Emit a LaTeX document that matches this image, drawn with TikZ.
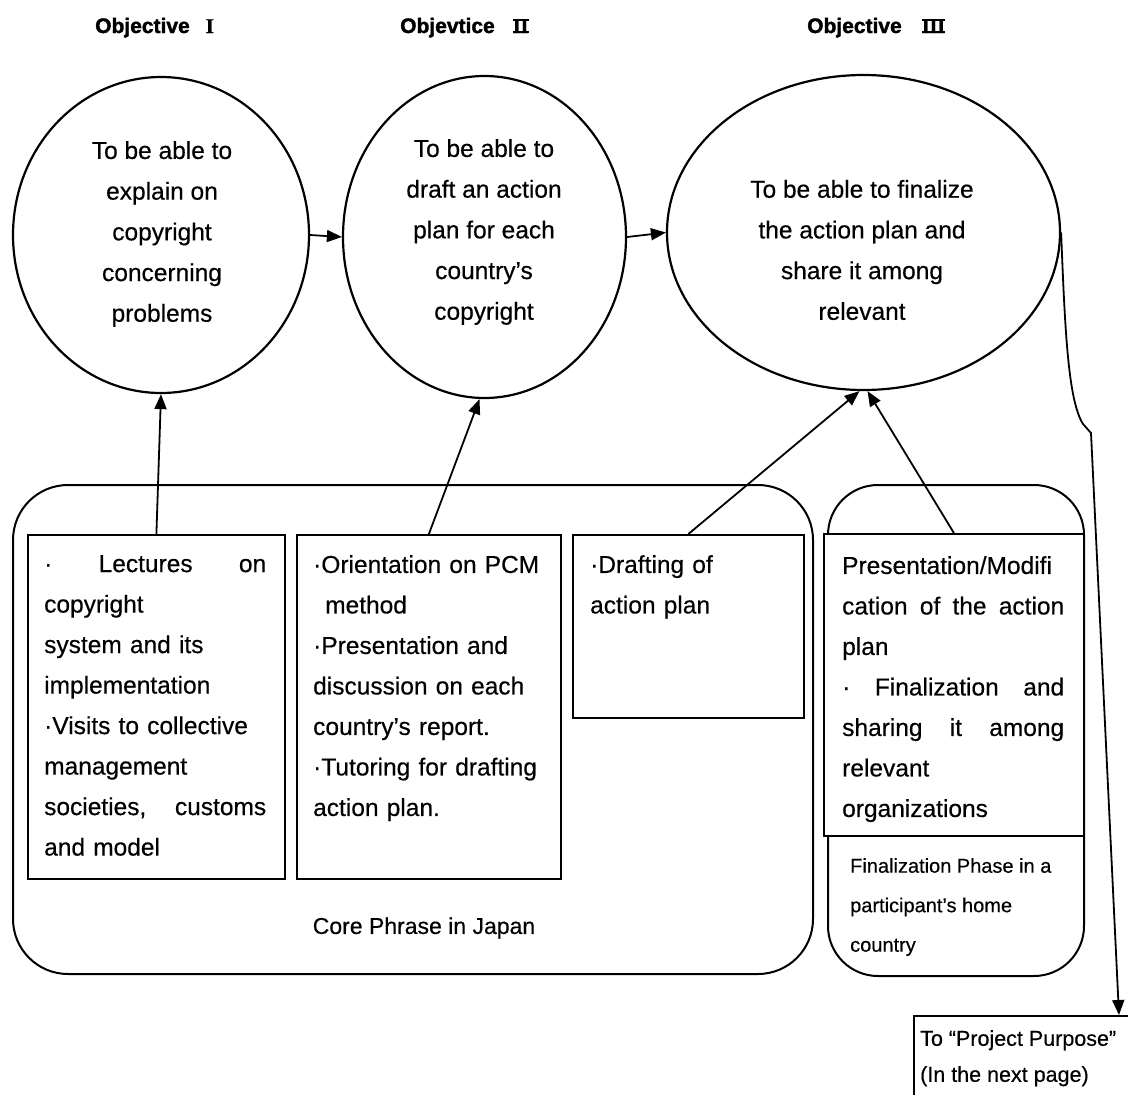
\documentclass[tikz,border=0pt]{standalone}
\usepackage{fontspec}
\setmainfont{Liberation Sans}[FakeBold=0.4]
\newfontfamily\hdrfont{Liberation Sans}[BoldFeatures={FakeBold=1.6}]
\newfontfamily\romfont{Liberation Serif}[BoldFeatures={FakeBold=1}]
\newcommand\romnum[1]{\setbox0\hbox{\romfont\bfseries #1}\rlap{\raisebox{\dimexpr\ht0-2.2pt\relax}{\rule{\wd0}{2.2pt}}}\rlap{\rule{\wd0}{2.2pt}}\box0}
\usetikzlibrary{shapes.geometric,arrows.meta}
\tikzset{
  ell/.style={ellipse, draw, line width=2.2pt, inner sep=0pt},
  ctext/.style={align=center, inner sep=0pt, font=\fontsize{24.5}{40.7}\selectfont},
  actbox/.style={draw, line width=1.8pt, anchor=north west, inner sep=0pt},
  btext/.style={align=left, anchor=north west, inner sep=0pt, font=\fontsize{24.5}{40.5}\selectfont},
  phasebox/.style={draw, line width=2pt, anchor=north west, inner sep=0pt},
  arr/.style={line width=1.8pt, -{Triangle[length=15pt,width=12pt]}},
  hdr/.style={anchor=base west, inner sep=0pt, font=\fontsize{21}{25}\selectfont\hdrfont\bfseries},
  smalltext/.style={align=left, anchor=north west, inner sep=0pt, font=\fontsize{20}{39.5}\selectfont},
}
\begin{document}
\begin{tikzpicture}[x=1pt,y=-1pt]
\clip (0,0) rectangle (1128,1095);
\fill[white] (0,0) rectangle (1128,1095);

% headers
\node[hdr] (h1) at (95,33) {Objective\hspace{16pt}{\romfont\bfseries I}};
\node[hdr] (h2) at (400,33) {Objevtice\hspace{18pt}\romnum{I\kern-0.5pt I}};
\node[hdr] (h3) at (807,33) {Objective\hspace{20pt}\romnum{I\kern-0.5pt I\kern-0.5pt I}};

% objectives
\node[ell, minimum width=296pt, minimum height=316pt] (c1) at (161,235) {};
\node[ctext] (t1) at (162,234) {To be able to\\explain on\\copyright\\concerning\\problems};
\node[ell, minimum width=283pt, minimum height=322pt] (c2) at (484.5,237) {};
\node[ctext] (t2) at (484,232) {To be able to\\draft an action\\plan for each\\country's\\copyright};
\node[ell, minimum width=393pt, minimum height=315pt] (c3) at (863.5,232.5) {};
\node[ctext] (t3) at (862,250) {To be able to finalize\\the action plan and\\share it among\\relevant};

% phases
\node[phasebox, rounded corners=55pt, minimum width=800pt, minimum height=489pt] (core) at (12,484) {};
\node[phasebox, rounded corners=50pt, minimum width=256pt, minimum height=491pt] (home) at (827,484) {};

% activity boxes
\node[actbox, minimum width=257pt, minimum height=344pt] (b1) at (27,534) {};
\node[actbox, minimum width=264pt, minimum height=344pt] (b2) at (296,534) {};
\node[actbox, minimum width=231pt, minimum height=183pt] (b3) at (572,534) {};
\node[actbox, fill=white, minimum width=260pt, minimum height=302pt] (b4) at (823,533) {};

\node[btext, text width=222pt] (x1) at (44,555) {·\hfill Lectures\hfill on\\copyright\\system and its\\implementation\\·Visits to collective\\management\\societies,\hfill customs\\and model};
\node[btext, text width=232pt] (x2) at (313,555) {·Orientation on PCM\\\hspace*{12pt}method\\·Presentation and\\discussion on each\\country's report.\\·Tutoring for drafting\\action plan.};
\node[btext, text width=200pt] (x3) at (590,555) {·Drafting of\\action plan};
\node[btext, text width=222pt] (x4) at (842,556) {Presentation/Modifi\\cation\hfill of\hfill the\hfill action\\plan\\·\hfill Finalization\hfill and\\sharing\hfill it\hfill among\\relevant\\organizations};

\node[inner sep=0pt, font=\fontsize{23}{28}\selectfont] (corelbl) at (424,928) {Core Phrase in Japan};
\node[smalltext] (homelbl) at (850,858) {Finalization Phase in a\\participant's home\\country};

% next-page box
\node[draw, line width=1.8pt, anchor=north west, minimum width=260pt, minimum height=120pt] (tp) at (913,1015) {};
\node[smalltext, font=\fontsize{21.5}{36}\selectfont] (tplbl) at (920,1030) {To ``Project Purpose''\\(In the next page)};

% connectors
\draw[arr] (c1.east) -- (c2.west);
\draw[arr] (c2.east) -- (c3.west);
\draw[arr] (b1.north) -- (c1.south);
\draw[arr] (b2.north) -- ([xshift=-5pt]c2.south);
\draw[arr] (b3.north) -- ([xshift=-4pt]c3.south);
\draw[arr] (b4.north) -- ([xshift=4pt]c3.south);
\coordinate (kink) at (1091,433);
\coordinate (tpin) at ([xshift=206pt]tp.north west);
\draw[arr] (c3.east) .. controls (1065,330) and (1068,400) .. (1083,424) -- (kink) -- (tpin);
\end{tikzpicture}
\end{document}
